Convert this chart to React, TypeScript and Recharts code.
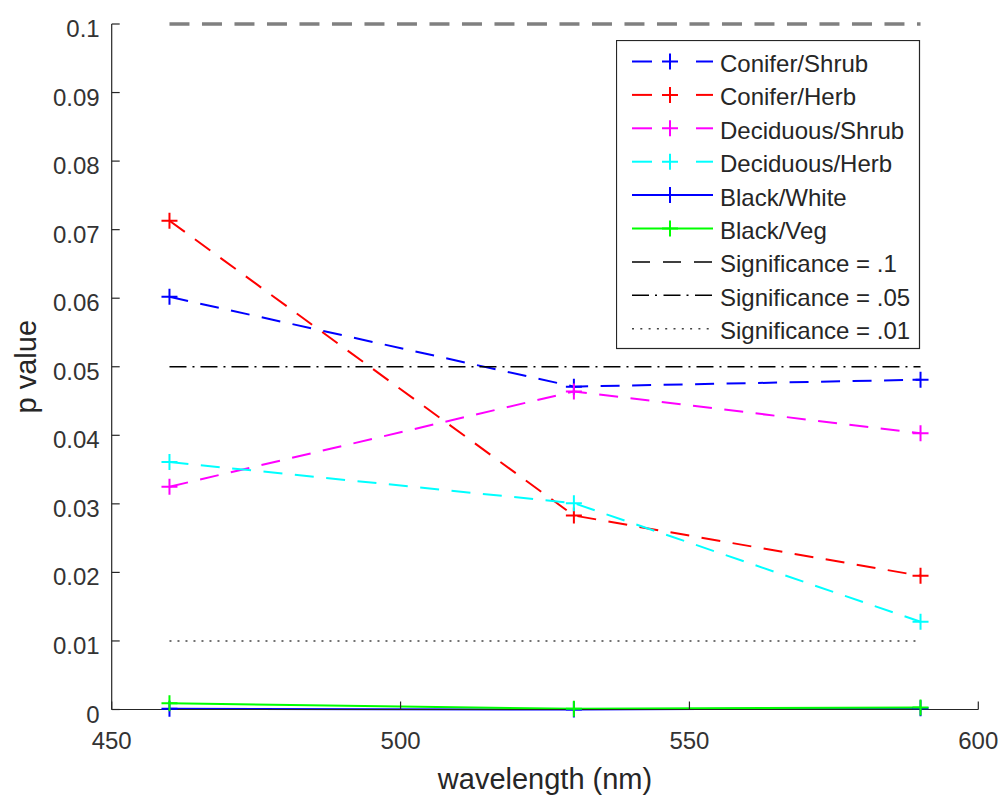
import React from 'react';
import { LineChart, Line, XAxis, YAxis, Legend } from 'recharts';

const wavelengths = [460, 530, 590];
const coniferShrub = [0.0602, 0.0471, 0.0481];
const coniferHerb = [0.0713, 0.0283, 0.0195];
const deciduousShrub = [0.0325, 0.0464, 0.0403];
const deciduousHerb = [0.0361, 0.0301, 0.0128];
const blackWhite = [0.0001, 0.0, 0.0002];
const blackVeg = [0.0009, 0.0001, 0.0003];
const sig10 = [0.1, 0.1, 0.1];
const sig05 = [0.05, 0.05, 0.05];
const sig01 = [0.01, 0.01, 0.01];

const xTicks = [450, 500, 550, 600];
const yTicks = [0, 0.01, 0.02, 0.03, 0.04, 0.05, 0.06, 0.07, 0.08, 0.09, 0.1];

const FONT = '"Liberation Sans", Arial, Helvetica, sans-serif';
const AXIS = '#262626';
const DASH = '19 12.5';

type Kind = 'dashed' | 'solid' | 'sig10' | 'sig05' | 'sig01';
interface Series {
  key: string;
  name: string;
  color: string;
  kind: Kind;
  values: number[];
}

const series: Series[] = [
  { key: 'cs', name: 'Conifer/Shrub', color: '#0000ff', kind: 'dashed', values: coniferShrub },
  { key: 'ch', name: 'Conifer/Herb', color: '#ff0000', kind: 'dashed', values: coniferHerb },
  { key: 'ds', name: 'Deciduous/Shrub', color: '#ff00ff', kind: 'dashed', values: deciduousShrub },
  { key: 'dh', name: 'Deciduous/Herb', color: '#00ffff', kind: 'dashed', values: deciduousHerb },
  { key: 'bw', name: 'Black/White', color: '#0000ff', kind: 'solid', values: blackWhite },
  { key: 'bv', name: 'Black/Veg', color: '#00ff00', kind: 'solid', values: blackVeg },
  { key: 's10', name: 'Significance = .1', color: '#000000', kind: 'sig10', values: sig10 },
  { key: 's05', name: 'Significance = .05', color: '#000000', kind: 'sig05', values: sig05 },
  { key: 's01', name: 'Significance = .01', color: '#000000', kind: 'sig01', values: sig01 },
];

const data = wavelengths.map((wl, i) => {
  const row: Record<string, number> = { wl };
  series.forEach((s) => {
    row[s.key] = s.values[i];
  });
  return row;
});

const plusPath = (cx: number, cy: number, r: number) =>
  `M${cx - r},${cy}L${cx + r},${cy}M${cx},${cy - r}L${cx},${cy + r}`;

const makeDot = (color: string) => (props: any) => {
  const { cx, cy, index } = props;
  if (cx == null || cy == null) return <g key={`d${index}`} />;
  return (
    <path
      key={`d${index}`}
      d={plusPath(cx, cy, 8)}
      stroke={color}
      strokeWidth={2}
      fill="none"
    />
  );
};

const plotStyle = (kind: Kind, color: string) => {
  switch (kind) {
    case 'dashed':
      return { stroke: color, strokeWidth: 2, strokeDasharray: DASH };
    case 'solid':
      return { stroke: color, strokeWidth: 2, strokeDasharray: undefined };
    case 'sig10':
      return { stroke: '#808080', strokeWidth: 3.5, strokeDasharray: '20 12.5' };
    case 'sig05':
      return { stroke: '#000000', strokeWidth: 1.5, strokeDasharray: '17 6 2 6' };
    default:
      return { stroke: '#444444', strokeWidth: 1.5, strokeDasharray: '2 6' };
  }
};

const XTick = (props: any) => {
  const { x, y, payload } = props;
  return (
    <text x={x} y={y + 39.5} textAnchor="middle" fill="#333333" fontSize={24} fontFamily={FONT}>
      {String(payload.value)}
    </text>
  );
};

const YTick = (props: any) => {
  const { x, y, payload } = props;
  return (
    <text x={x - 12} y={y + 13} textAnchor="end" fill="#333333" fontSize={24} fontFamily={FONT}>
      {String(payload.value)}
    </text>
  );
};

const XLabel = (props: any) => {
  const vb = props.viewBox || {};
  const cx = vb.x + vb.width / 2;
  return (
    <text x={cx} y={vb.y + 79.5} textAnchor="middle" fill={AXIS} fontSize={29} fontFamily={FONT}>
      wavelength (nm)
    </text>
  );
};

const YLabel = (props: any) => {
  const vb = props.viewBox || {};
  const lx = vb.x + 36;
  const ly = vb.y + vb.height / 2;
  return (
    <text
      x={lx}
      y={ly}
      transform={`rotate(-90 ${lx} ${ly})`}
      textAnchor="middle"
      fill={AXIS}
      fontSize={29}
      fontFamily={FONT}
    >
      p value
    </text>
  );
};

const LegendBox = () => {
  const rowH = 33.4;
  const top = 21.5;
  return (
    <svg width={305} height={311} style={{ display: 'block' }}>
      <rect x={0.5} y={0.5} width={303} height={308} fill="#ffffff" stroke={AXIS} strokeWidth={1.2} />
      {series.map((s, i) => {
        const y = top + rowH * i;
        let sample: React.ReactNode = null;
        if (s.kind === 'dashed') {
          sample = (
            <g stroke={s.color} strokeWidth={2} fill="none">
              <line x1={16} y1={y} x2={36} y2={y} />
              <line x1={80} y1={y} x2={97} y2={y} />
              <path d={plusPath(54, y, 8)} />
            </g>
          );
        } else if (s.kind === 'solid') {
          sample = (
            <g stroke={s.color} strokeWidth={2} fill="none">
              <line x1={16} y1={y} x2={97} y2={y} />
              <path d={plusPath(54, y, 8)} />
            </g>
          );
        } else {
          const dash = s.kind === 'sig10' ? '18 13' : s.kind === 'sig05' ? '17 6 2 6.5' : '2 6.3';
          sample = (
            <line
              x1={16}
              y1={y}
              x2={97}
              y2={y}
              stroke={s.kind === 'sig01' ? '#444444' : '#000000'}
              strokeWidth={1.5}
              strokeDasharray={dash}
            />
          );
        }
        return (
          <g key={s.key}>
            {sample}
            <text x={104} y={y + 10.5} fill={AXIS} fontSize={24} fontFamily={FONT}>
              {s.name}
            </text>
          </g>
        );
      })}
    </svg>
  );
};

export default function App() {
  return (
    <div style={{ position: 'absolute', left: 0, top: 0, width: 1002, height: 795, background: '#ffffff' }}>
      <LineChart
        width={1002}
        height={795}
        data={data}
        margin={{ top: 24, right: 23.7, bottom: 0, left: 0 }}
      >
        <XAxis
          dataKey="wl"
          type="number"
          domain={[450, 600]}
          ticks={xTicks}
          interval={0}
          height={85.5}
          stroke={AXIS}
          axisLine={{ stroke: AXIS, strokeWidth: 1.2 }}
          tickLine={{ stroke: AXIS, strokeWidth: 1.2 }}
          tickSize={-8}
          tickMargin={8}
          tick={<XTick />}
          label={<XLabel />}
        />
        <YAxis
          type="number"
          domain={[0, 0.1]}
          ticks={yTicks}
          interval={0}
          width={111.7}
          stroke={AXIS}
          axisLine={{ stroke: AXIS, strokeWidth: 1.2 }}
          tickLine={{ stroke: AXIS, strokeWidth: 1.2 }}
          tickSize={-8}
          tickMargin={8}
          tick={<YTick />}
          label={<YLabel />}
        />
        {series.map((s) => {
          const st = plotStyle(s.kind, s.color);
          const marker = s.kind === 'dashed' || s.kind === 'solid';
          return (
            <Line
              key={s.key}
              dataKey={s.key}
              name={s.name}
              type="linear"
              stroke={st.stroke}
              strokeWidth={st.strokeWidth}
              strokeDasharray={st.strokeDasharray}
              dot={marker ? makeDot(s.color) : false}
              activeDot={false}
              isAnimationActive={false}
              legendType="none"
            />
          );
        })}
        <Legend
          layout="vertical"
          align="center"
          verticalAlign="middle"
          content={<LegendBox />}
          wrapperStyle={{ position: 'absolute', left: 616, top: 40, width: 305, height: 311 }}
        />
      </LineChart>
    </div>
  );
}
